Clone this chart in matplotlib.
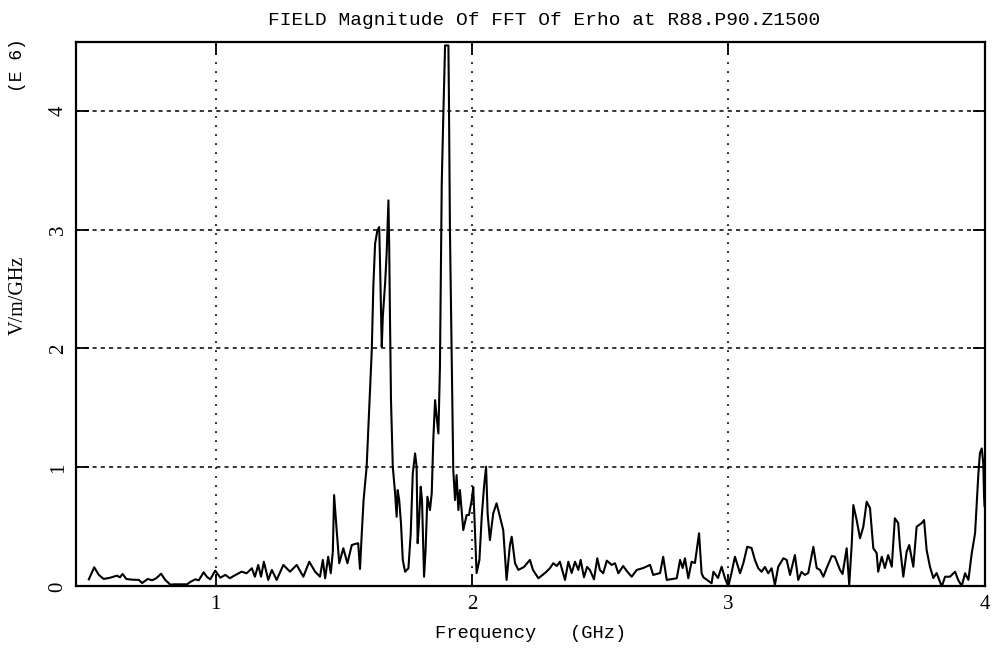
import numpy as np
import matplotlib
matplotlib.use("Agg")
import matplotlib.pyplot as plt

# frequency (GHz) and FFT magnitude (x 1e6 V/m/GHz)
freq_ghz = [
    0.505, 0.526, 0.544, 0.563, 0.589, 0.615, 0.626, 0.637, 0.651, 0.674,
    0.700, 0.713, 0.735, 0.752, 0.768, 0.787, 0.803, 0.823, 0.836, 0.888,
    0.901, 0.920, 0.934, 0.953, 0.966, 0.979, 0.998, 1.018, 1.038, 1.055,
    1.070, 1.101, 1.121, 1.141, 1.153, 1.166, 1.177, 1.188, 1.205, 1.219,
    1.238, 1.264, 1.290, 1.316, 1.342, 1.365, 1.388, 1.407, 1.418, 1.427,
    1.439, 1.449, 1.457, 1.462, 1.472, 1.482, 1.498, 1.514, 1.531, 1.544,
    1.556, 1.563, 1.570, 1.577, 1.589, 1.602, 1.609, 1.615, 1.622, 1.631,
    1.638, 1.641, 1.648, 1.652, 1.661, 1.667, 1.674, 1.677, 1.680, 1.684,
    1.691, 1.700, 1.706, 1.710, 1.716, 1.723, 1.730, 1.739, 1.752, 1.761,
    1.769, 1.778, 1.784, 1.788, 1.793, 1.800, 1.805, 1.813, 1.819, 1.826,
    1.836, 1.843, 1.849, 1.856, 1.862, 1.869, 1.875, 1.882, 1.888, 1.895,
    1.908, 1.910, 1.914, 1.921, 1.927, 1.934, 1.940, 1.947, 1.953, 1.966,
    1.979, 1.988, 1.999, 2.005, 2.012, 2.018, 2.029, 2.038, 2.047, 2.055,
    2.061, 2.070, 2.083, 2.096, 2.109, 2.122, 2.135, 2.148, 2.155, 2.168,
    2.181, 2.203, 2.226, 2.238, 2.259, 2.285, 2.304, 2.317, 2.331, 2.343,
    2.363, 2.376, 2.389, 2.402, 2.415, 2.424, 2.437, 2.449, 2.460, 2.476,
    2.489, 2.499, 2.512, 2.526, 2.545, 2.558, 2.571, 2.590, 2.604, 2.623,
    2.643, 2.668, 2.695, 2.707, 2.734, 2.746, 2.760, 2.799, 2.812, 2.822,
    2.831, 2.844, 2.857, 2.870, 2.886, 2.896, 2.903, 2.935, 2.942, 2.960,
    2.974, 2.987, 3.000, 3.011, 3.026, 3.046, 3.059, 3.074, 3.091, 3.104,
    3.117, 3.130, 3.143, 3.156, 3.169, 3.182, 3.195, 3.215, 3.228, 3.241,
    3.260, 3.273, 3.286, 3.299, 3.312, 3.332, 3.345, 3.358, 3.371, 3.384,
    3.404, 3.416, 3.436, 3.446, 3.462, 3.472, 3.482, 3.488, 3.501, 3.514,
    3.527, 3.540, 3.553, 3.566, 3.579, 3.585, 3.599, 3.611, 3.624, 3.638,
    3.650, 3.663, 3.670, 3.683, 3.696, 3.706, 3.722, 3.735, 3.755, 3.764,
    3.774, 3.787, 3.800, 3.813, 3.833, 3.846, 3.865, 3.885, 3.897, 3.911,
    3.924, 3.937, 3.950, 3.963, 3.976, 3.982, 3.989, 3.995, 3.998, 4.000,
]
magnitude = [
    0.060, 0.161, 0.097, 0.063, 0.074, 0.091, 0.077, 0.105, 0.063, 0.057,
    0.055, 0.029, 0.063, 0.052, 0.069, 0.107, 0.055, 0.015, 0.018, 0.018,
    0.038, 0.060, 0.052, 0.119, 0.080, 0.060, 0.133, 0.074, 0.097, 0.069,
    0.088, 0.124, 0.111, 0.153, 0.082, 0.181, 0.082, 0.208, 0.055, 0.139,
    0.055, 0.181, 0.124, 0.181, 0.082, 0.208, 0.124, 0.082, 0.223, 0.069,
    0.250, 0.111, 0.292, 0.768, 0.474, 0.195, 0.321, 0.195, 0.348, 0.357,
    0.363, 0.147, 0.447, 0.726, 1.006, 1.650, 1.986, 2.517, 2.882, 2.993,
    3.021, 2.741, 2.013, 2.265, 2.546, 2.798, 3.245, 2.853, 2.265, 1.566,
    1.006, 0.783, 0.586, 0.810, 0.726, 0.531, 0.223, 0.124, 0.153, 0.447,
    0.950, 1.118, 1.006, 0.363, 0.533, 0.838, 0.726, 0.082, 0.306, 0.754,
    0.642, 0.785, 1.230, 1.566, 1.426, 1.286, 1.846, 3.385, 3.945, 4.547,
    4.547, 4.113, 2.993, 1.874, 0.978, 0.726, 0.936, 0.642, 0.810, 0.474,
    0.600, 0.600, 0.726, 0.835, 0.449, 0.113, 0.223, 0.586, 0.838, 1.006,
    0.615, 0.390, 0.615, 0.699, 0.586, 0.474, 0.055, 0.348, 0.418, 0.195,
    0.139, 0.164, 0.223, 0.139, 0.069, 0.113, 0.153, 0.195, 0.172, 0.208,
    0.055, 0.208, 0.113, 0.208, 0.139, 0.223, 0.077, 0.164, 0.139, 0.060,
    0.237, 0.139, 0.111, 0.217, 0.181, 0.195, 0.111, 0.172, 0.130, 0.082,
    0.139, 0.155, 0.181, 0.097, 0.113, 0.250, 0.055, 0.069, 0.223, 0.155,
    0.237, 0.069, 0.208, 0.197, 0.447, 0.111, 0.077, 0.027, 0.124, 0.071,
    0.166, 0.071, 0.000, 0.097, 0.250, 0.111, 0.197, 0.334, 0.323, 0.223,
    0.153, 0.124, 0.164, 0.111, 0.153, 0.013, 0.166, 0.237, 0.223, 0.097,
    0.264, 0.055, 0.122, 0.097, 0.113, 0.334, 0.155, 0.139, 0.082, 0.155,
    0.256, 0.250, 0.139, 0.105, 0.321, 0.013, 0.365, 0.684, 0.558, 0.405,
    0.502, 0.712, 0.659, 0.321, 0.281, 0.124, 0.250, 0.155, 0.264, 0.166,
    0.573, 0.533, 0.334, 0.082, 0.292, 0.348, 0.166, 0.502, 0.533, 0.558,
    0.306, 0.166, 0.071, 0.113, 0.000, 0.082, 0.082, 0.124, 0.055, 0.004,
    0.111, 0.055, 0.279, 0.447, 0.950, 1.121, 1.160, 1.037, 0.760, 0.675,
]

x_ticks = [1, 2, 3, 4]
y_ticks = [0, 1, 2, 3, 4]

mono = "Liberation Mono"
serif = "Liberation Serif"

fig = plt.figure(figsize=(9.95, 6.56), dpi=100)
ax = fig.add_axes([0.0764, 0.106, 0.9131, 0.8307])

ax.plot(freq_ghz, magnitude, color="black", linewidth=1.5)

ax.set_xlim(0.455, 4.0)
ax.set_ylim(0, 4.58)
ax.set_xticks(x_ticks)
ax.set_yticks(y_ticks)
ax.set_xticklabels([str(t) for t in x_ticks], fontfamily=serif, fontsize=15)
ax.set_yticklabels([str(t) for t in y_ticks], fontfamily=serif, fontsize=15,
                   rotation=90, va="center")

# grid: dashed across, dotted up
for yv in y_ticks[1:]:
    ax.axhline(yv, color="black", linewidth=1.1, linestyle=(0, (2.7, 2.7)), zorder=0)
for xv in x_ticks[:-1]:
    ax.axvline(xv, color="black", linewidth=1.2, linestyle=(0, (1.1, 4.3)), zorder=0)

ax.tick_params(direction="in", length=9, width=1.3, top=True, right=True,
               pad=6, colors="black")
for s in ax.spines.values():
    s.set_linewidth(1.6)

ax.set_title("FIELD Magnitude Of FFT Of Erho at R88.P90.Z1500",
             fontfamily=mono, fontsize=14, pad=12, x=0.515)
ax.set_xlabel("Frequency   (GHz)", fontfamily=mono, fontsize=13.5, labelpad=8)
fig.text(0.018, 0.55, "V/m/GHz", rotation=90, fontfamily=serif, fontsize=14.5,
         ha="center", va="center")
fig.text(0.018, 0.90, "(E 6)", rotation=90, fontfamily=mono, fontsize=13,
         ha="center", va="center")

fig.savefig("out.png", dpi=100)
